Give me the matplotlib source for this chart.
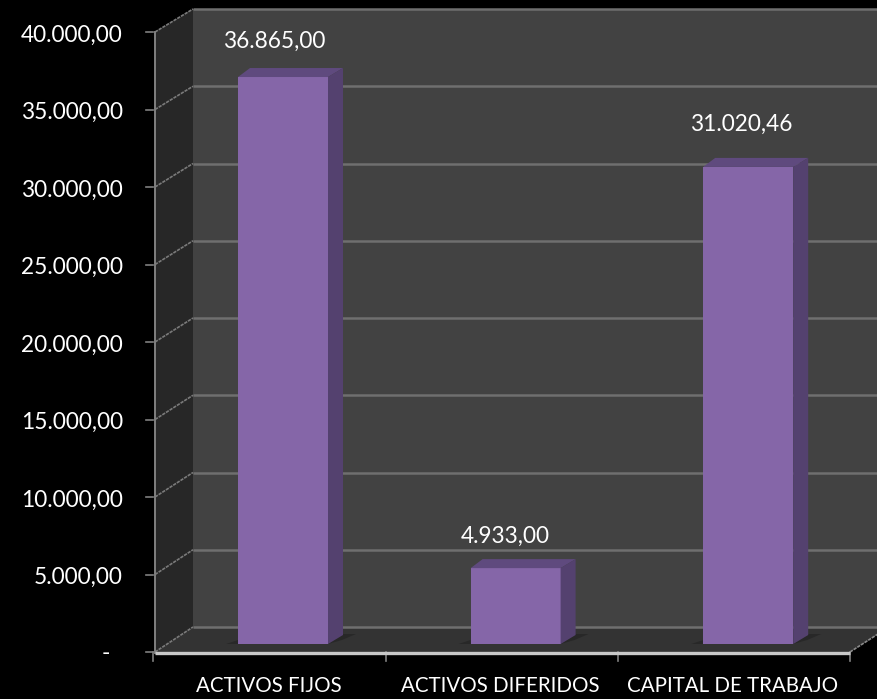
import matplotlib
matplotlib.use("Agg")
import matplotlib.pyplot as plt
from matplotlib.patches import Polygon

categories = ["ACTIVOS FIJOS", "ACTIVOS DIFERIDOS", "CAPITAL DE TRABAJO"]
values = [36865.00, 4933.00, 31020.46]
value_labels = ["36.865,00", "4.933,00", "31.020,46"]
y_ticks = [0, 5000, 10000, 15000, 20000, 25000, 30000, 35000, 40000]
y_tick_labels = ["-", "5.000,00", "10.000,00", "15.000,00", "20.000,00",
                 "25.000,00", "30.000,00", "35.000,00", "40.000,00"]

W, H = 878, 699
plt.rcParams['font.family'] = ['Lato', 'DejaVu Sans']
fig = plt.figure(figsize=(W / 100, H / 100), dpi=100, facecolor='black')
ax = fig.add_axes([0, 0, 1, 1])

# pixel scale of the bars' front plane
X0, XS = 283.0, 232.6
Y0, YS = 644.0, 76.9 / 5000
ax.set_xlim((0 - X0) / XS, (W - X0) / XS)
ax.set_ylim((Y0 - H) / YS, Y0 / YS)
ax.axis('off')

def dx(px):
    return px / XS

def dy(px):
    return px / YS

def xp(px):
    return (px - X0) / XS

def yp(px):
    return (Y0 - px) / YS

def poly(pts, color, z=1, **kw):
    ax.add_patch(Polygon([(xp(a), yp(b)) for a, b in pts], closed=True,
                         facecolor=color, edgecolor='none', zorder=z, **kw))

# walls
LEFT, BACK, RIGHT, FRONT_R = 155, 193, 878, 850
poly([(BACK, 9), (RIGHT, 9), (RIGHT, 627), (BACK, 627)], '#424242', 1)
poly([(LEFT, 32), (BACK, 9), (BACK, 627), (LEFT, 652)], '#272727', 1)
poly([(LEFT, 652), (BACK, 627), (RIGHT, 627), (RIGHT, 634), (FRONT_R, 652)], '#333333', 1)

# gridlines: value scale of the back wall and of the left edge
for v in y_ticks:
    yb = 627 - v * 618 / 40000
    yf = 652 - v * 620 / 40000
    ax.plot([xp(BACK), xp(RIGHT)], [yp(yb), yp(yb)], color='#6f6f6f', lw=1.8, zorder=2,
            solid_capstyle='butt')
    ax.plot([xp(LEFT), xp(BACK)], [yp(yf), yp(yb)], color='#7a7a7a', lw=1.2, zorder=2,
            ls=(0, (2, 0.6)))
    ax.plot([xp(146), xp(153.5)], [yp(yf), yp(yf)], color='#808080', lw=1.2, zorder=3)
    if v == 0:
        ax.text(xp(110), yp(654), y_tick_labels[0], color='white', fontsize=16.3,
                ha='right', va='center', zorder=6)
    else:
        ax.text(xp(123), yp(yf + 3), y_tick_labels[v // 5000], color='white', fontsize=16.3,
                ha='right', va='center', zorder=6)

ax.plot([xp(LEFT), xp(LEFT)], [yp(32), yp(653)], color='#808080', lw=1.4, zorder=3)
ax.plot([xp(FRONT_R), xp(RIGHT)], [yp(652), yp(634)], color='#8a8a8a', lw=1.2,
        ls=(0, (2, 0.6)), zorder=3)
ax.plot([xp(LEFT), xp(FRONT_R)], [yp(653), yp(653)], color='#c8c8c8', lw=2.4, zorder=4,
        solid_capstyle='butt')
TICK0 = 153.5
for i in range(len(categories) + 1):
    px = TICK0 + i * (FRONT_R - TICK0) / len(categories)
    ax.plot([xp(px), xp(px)], [yp(652), yp(661)], color='#808080', lw=1.2, zorder=3)

# bars
BW = 90 / XS
DX, DY = 15, 9
label_offsets_px = [(-8.5, 35.5), (-10, 32), (-7, 42.5)]
for i, (c, v) in enumerate(zip(categories, values)):
    left = i - BW / 2
    right = i + BW / 2
    # floor shadow
    ax.add_patch(Polygon([(left - dx(12), yp(644)), (left, yp(640)), (left, yp(644))],
                         closed=True, facecolor='#282828', edgecolor='none', zorder=3))
    ax.add_patch(Polygon([(right, yp(644)), (right + dx(15), yp(634)), (right + dx(28), yp(634)),
                          (right + dx(14), yp(640))],
                         closed=True, facecolor='#282828', edgecolor='none', zorder=3))
    ax.bar(i, v, width=BW, color='#8566a8', zorder=5)
    # top face
    ax.add_patch(Polygon([(left, v), (left + dx(DX - 3), v + dy(DY)),
                          (right + dx(DX), v + dy(DY)), (right, v)],
                         closed=True, facecolor='#5f4a7e', edgecolor='none', zorder=5))
    # side face
    ax.add_patch(Polygon([(right, 0), (right + dx(DX), dy(DY)), (right + dx(DX), v + dy(DY)),
                          (right, v)],
                         closed=True, facecolor='#54416f', edgecolor='none', zorder=5))
    ox, oy = label_offsets_px[i]
    ax.text(i + dx(ox), v + dy(oy), value_labels[i], color='white', fontsize=16.3,
            ha='center', va='center', zorder=6)
    ax.text(xp(LEFT + (i + 0.5) * (FRONT_R - LEFT) / len(categories)) + dx(-2),
            yp(686.5), c, color='white', fontsize=14.8, ha='center', va='center', zorder=6)

fig.savefig('out.png', dpi=100, facecolor='black')
